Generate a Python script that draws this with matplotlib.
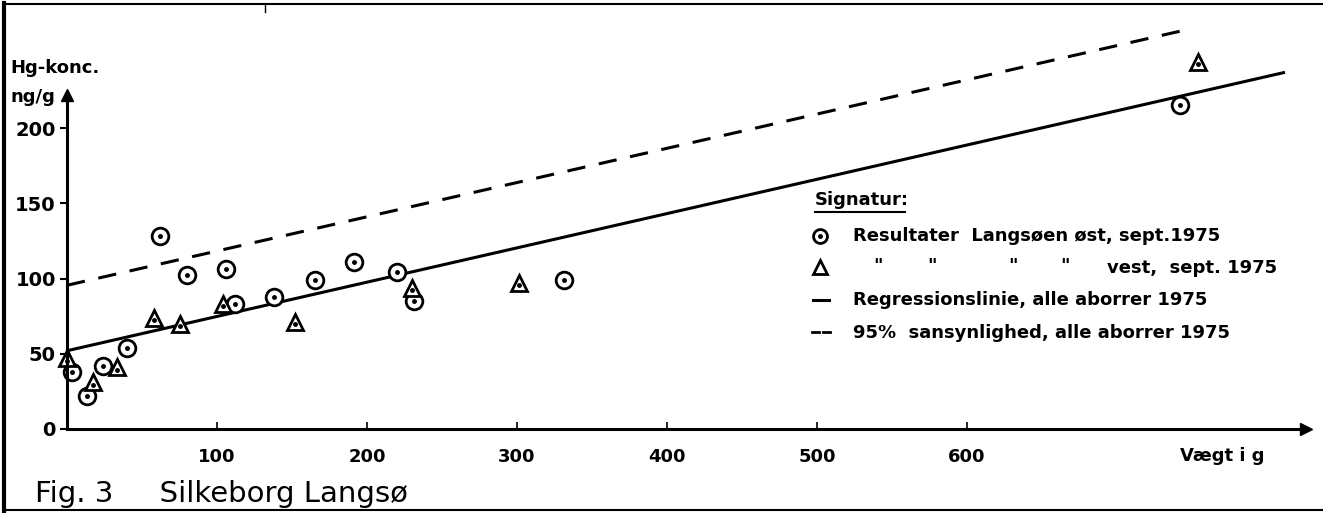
import matplotlib
matplotlib.use("Agg")
import matplotlib.pyplot as plt
import numpy as np
from matplotlib.lines import Line2D

# data (x = weight in g, y = Hg ng/g)
ost_x = [3, 13, 24, 40, 62, 80, 106, 112, 138, 165, 191, 220, 231, 331, 742]
ost_y = [38, 22, 42, 54, 128, 102, 106, 83, 88, 99, 111, 104, 85, 99, 215]
vest_x = [0, 17, 33, 58, 75, 104, 152, 230, 301, 754]
vest_y = [47, 31, 41, 74, 70, 83, 71, 94, 97, 244]
reg_x = [0, 812]
reg_y = [52, 237]
conf_x = [0, 745]
conf_y = [95.5, 265]

xticks = [100, 200, 300, 400, 500, 600]
yticks = [0, 50, 100, 150, 200]

W, H = 1323, 513
fig = plt.figure(figsize=(W / 100, H / 100), dpi=100)
ax = fig.add_axes([0, 0, 1, 1])
# pixel mapping: origin at (67, 429), 1.5 px per g, 1.505 px per ng/g
x0, y0, sx, sy = 67, 429, 1.5, 1.505
ax.set_xlim(-x0 / sx, (W - x0) / sx)
ax.set_ylim((y0 - H) / sy, y0 / sy)

plt.rcParams['font.family'] = ['DejaVu Sans']

# axes drawn as lines with arrows
ax.spines['top'].set_visible(False)
ax.spines['right'].set_visible(False)
ax.spines['left'].set_position(('data', 0))
ax.spines['bottom'].set_position(('data', 0))
ax.spines['left'].set_bounds(0, 222)
ax.spines['bottom'].set_bounds(0, 826)
ax.spines['left'].set_linewidth(2.2)
ax.spines['bottom'].set_linewidth(2.2)
ax.plot([826], [0], marker='>', color='k', markersize=9, clip_on=False)
ax.plot([0], [222], marker='^', color='k', markersize=9, clip_on=False)

ax.set_xticks(xticks)
ax.set_yticks(yticks)
ax.tick_params(axis='x', direction='in', length=5, width=1.2, pad=14, labelsize=13)
ax.tick_params(axis='y', direction='out', length=5, width=1.5, pad=3, labelsize=14)
for lab in ax.get_xticklabels() + ax.get_yticklabels():
    lab.set_fontweight('bold')

# regression and 95% lines
ax.plot(reg_x, reg_y, color='k', lw=2.2, solid_capstyle='butt')
ax.plot(conf_x, conf_y, color='k', lw=2.2, dashes=(6, 4.5))

# data points
ax.plot(ost_x, ost_y, 'o', mfc='white', mec='k', mew=2, ms=12)
ax.plot(ost_x, ost_y, 'o', color='k', ms=2.5)
ax.plot(vest_x, vest_y, '^', mfc='white', mec='k', mew=2, ms=12)
ax.plot(vest_x, np.array(vest_y) - 1.5, 'o', color='k', ms=2.5)

# axis titles
ax.text(10 / W, 1 - 68 / H, "Hg-konc.", transform=ax.transAxes, fontsize=13,
        fontweight='bold', va='center', ha='left')
ax.text(10 / W, 1 - 97 / H, "ng/g", transform=ax.transAxes, fontsize=13,
        fontweight='bold', va='center', ha='left')
ax.text(1180 / W, 1 - 456 / H, "Vægt i g", transform=ax.transAxes, fontsize=13,
        fontweight='bold', va='center', ha='left')
ax.text(35 / W, 1 - 494 / H, "Fig. 3     Silkeborg Langsø", transform=ax.transAxes,
        fontsize=21, va='center', ha='left')

# legend ("Signatur")
def fx(px):
    return px / W

def fy(py):
    return 1 - py / H

lfs = 13
ax.text(fx(815), fy(200), "Signatur:", transform=ax.transAxes, fontsize=lfs,
        fontweight='bold', va='center', ha='left')
ax.plot([fx(815), fx(905)], [fy(212), fy(212)], color='k', lw=1.5,
        transform=ax.transAxes)
ax.plot([fx(820)], [fy(236)], 'o', mfc='white', mec='k', mew=2, ms=10,
        transform=ax.transAxes)
ax.plot([fx(820)], [fy(236)], 'o', color='k', ms=2.5, transform=ax.transAxes)
ax.text(fx(853), fy(236), "Resultater  Langsøen øst, sept.1975",
        transform=ax.transAxes, fontsize=lfs, fontweight='bold', va='center', ha='left')
ax.plot([fx(820)], [fy(267)], '^', mfc='white', mec='k', mew=2, ms=10,
        transform=ax.transAxes)
for px in [878, 932, 1013, 1065]:
    ax.text(fx(px), fy(266), '"', transform=ax.transAxes, fontsize=lfs,
            fontweight='bold', va='center', ha='center')
ax.text(fx(1107), fy(268), "vest,  sept. 1975", transform=ax.transAxes,
        fontsize=lfs, fontweight='bold', va='center', ha='left')
ax.plot([fx(813), fx(829)], [fy(300), fy(300)], color='k', lw=2.2,
        transform=ax.transAxes)
ax.text(fx(853), fy(300), "Regressionslinie, alle aborrer 1975",
        transform=ax.transAxes, fontsize=lfs, fontweight='bold', va='center', ha='left')
ax.plot([fx(812), fx(819)], [fy(332), fy(332)], color='k', lw=2, transform=ax.transAxes)
ax.plot([fx(823), fx(830)], [fy(332), fy(332)], color='k', lw=2, transform=ax.transAxes)
ax.text(fx(853), fy(333), "95%  sansynlighed, alle aborrer 1975",
        transform=ax.transAxes, fontsize=lfs, fontweight='bold', va='center', ha='left')

# frame of the scanned page
fig.add_artist(Line2D([4 / W, 4 / W], [fy(3), fy(511)], color='k', lw=3))
fig.add_artist(Line2D([4 / W, 1], [fy(4), fy(4)], color='k', lw=1.5))
fig.add_artist(Line2D([4 / W, 1], [fy(510), fy(510)], color='k', lw=1.5))
fig.add_artist(Line2D([265 / W, 265 / W], [fy(4), fy(12)], color='k', lw=1))

fig.savefig("out.png", dpi=100)
